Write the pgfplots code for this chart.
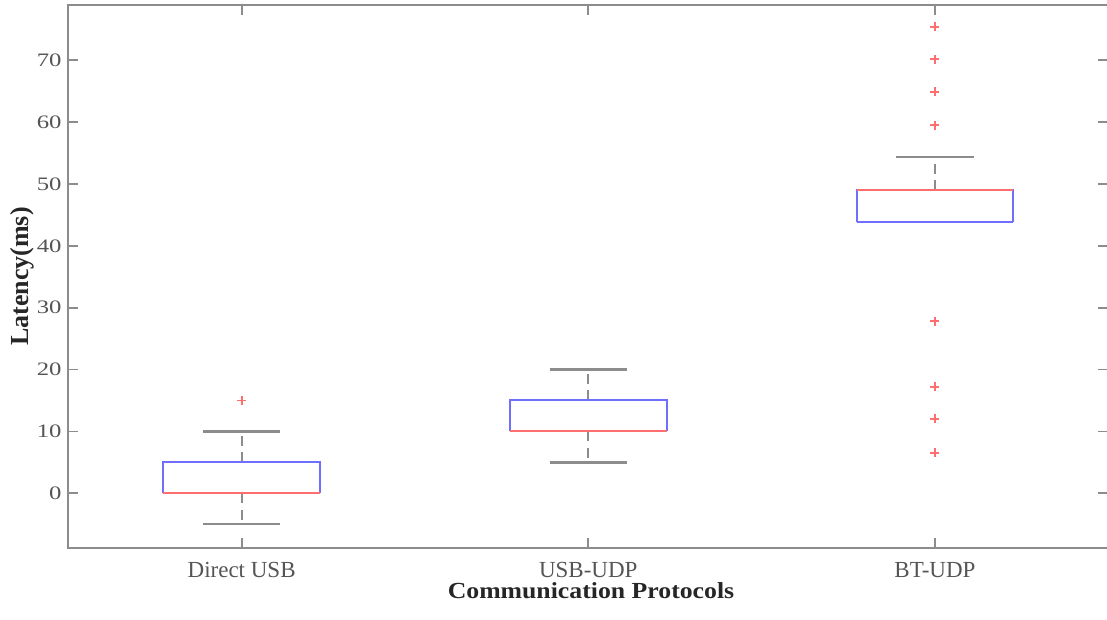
\documentclass[border=0pt]{standalone}
\usepackage{pgfplots}
\pgfplotsset{compat=1.18}
\usepackage{fontspec}
\setmainfont{Liberation Serif}
\newfontfamily\ytickfont{Liberation Serif}[FakeStretch=1.3]
\newfontfamily\xlabfont{Liberation Serif}[FakeStretch=1.12]
\definecolor{axgray}{RGB}{140,140,140}
\definecolor{txtgray}{RGB}{85,85,85}
\definecolor{boxblue}{RGB}{110,110,255}
\definecolor{medred}{RGB}{255,110,110}
\definecolor{whisk}{RGB}{140,140,140}
\begin{document}
\begin{tikzpicture}
\pgfplotsset{
  stem/.style={whisk, line width=2.2pt, dash pattern=on 10pt off 6.5pt},
  cap/.style={whisk, line width=2.4pt},
  bx/.style={boxblue, line width=2pt},
  med/.style={medred, line width=2pt},
  outl/.style={only marks, mark=+, mark size=4.5pt, mark options={medred, line width=1.8pt}},
}
\begin{axis}[
  name=ax,
  scale only axis,
  width=1040pt, height=543.3pt,
  xmin=0.5, xmax=3.5, ymin=-8.9, ymax=78.95,
  xtick={1,2,3},
  xticklabels={Direct USB, USB-UDP, BT-UDP},
  ytick={0,10,20,30,40,50,60,70},
  tick align=inside,
  major tick length=10pt,
  axis line style={axgray, line width=1.8pt},
  every tick/.style={axgray, line width=1.8pt},
  /pgf/number format/assume math mode=true,
  xticklabel style={font=\fontsize{23}{26}\selectfont, text=txtgray, anchor=base, yshift=-29pt},
  yticklabel style={font=\ytickfont\fontsize{19}{21}\selectfont, text=txtgray, anchor=east, inner sep=0pt, xshift=-6.6pt},
  xlabel={Communication Protocols},
  ylabel={Latency(ms)},
  every axis x label/.style={at={(axis description cs:0.5026,0)}, anchor=base, yshift=-50pt, font=\xlabfont\bfseries\fontsize{23}{26}\selectfont, text=black!85},
  every axis y label/.style={at={(axis description cs:-0.0382,0.5)}, anchor=base, rotate=90, font=\bfseries\fontsize{26}{28}\selectfont, text=black!85},
]
% ---------- Direct USB: whiskers -5 / 10, box 0 - 5, median 0
\addplot[stem] coordinates {(1,0) (1,-5)};
\addplot[stem] coordinates {(1,5) (1,10)};
\addplot[cap] coordinates {(0.8885,-5) (1.1115,-5)};
\addplot[cap] coordinates {(0.8885,10) (1.1115,10)};
\addplot[bx] coordinates {(0.774,0) (0.774,5) (1.226,5) (1.226,0)};
\addplot[bx] coordinates {(0.774,0) (1.226,0)};
\addplot[med] coordinates {(0.774,0) (1.226,0)};
% ---------- USB-UDP: whiskers 5 / 20, box 10 - 15, median 10
\addplot[stem] coordinates {(2,10) (2,5)};
\addplot[stem] coordinates {(2,15) (2,20)};
\addplot[cap] coordinates {(1.8885,5) (2.1115,5)};
\addplot[cap] coordinates {(1.8885,20) (2.1115,20)};
\addplot[bx] coordinates {(1.774,10) (1.774,15) (2.226,15) (2.226,10)};
\addplot[bx] coordinates {(1.774,10) (2.226,10)};
\addplot[med] coordinates {(1.774,10) (2.226,10)};
% ---------- BT-UDP: upper whisker 54.4, box 43.8 - 49.0, median 49.0
\addplot[stem] coordinates {(3,49.0) (3,54.4)};
\addplot[cap] coordinates {(2.8885,54.4) (3.1115,54.4)};
\addplot[bx] coordinates {(2.774,43.8) (2.774,49.0) (3.226,49.0) (3.226,43.8)};
\addplot[bx] coordinates {(2.774,43.8) (3.226,43.8)};
\addplot[med] coordinates {(2.774,49.0) (3.226,49.0)};
% ---------- outliers
\addplot[outl] coordinates {(1,15.0)};
\addplot[outl] coordinates {(3,75.4) (3,70.2) (3,64.9) (3,59.5) (3,27.8) (3,17.2) (3,12.05) (3,6.55)};
\end{axis}
\pgfresetboundingbox
\path[use as bounding box] ([xshift=-68.3pt,yshift=-70.7pt]ax.south west) rectangle ([xshift=-1.3pt,yshift=5pt]ax.north east);
\end{tikzpicture}
\end{document}
